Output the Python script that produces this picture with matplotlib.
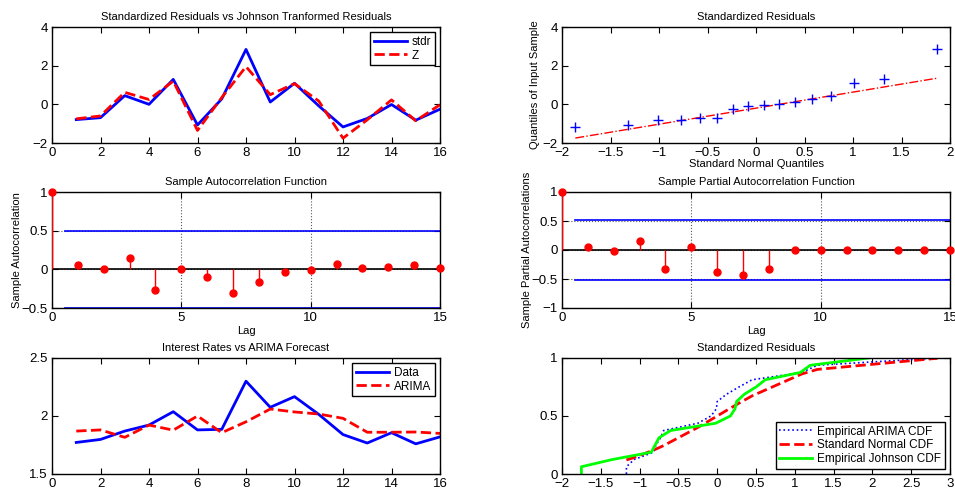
import math
from statistics import NormalDist
import numpy as np
import matplotlib
matplotlib.use("Agg")
import matplotlib.pyplot as plt
from matplotlib.ticker import FuncFormatter

plt.rcParams['font.family'] = ['Liberation Sans', 'DejaVu Sans']
plt.rcParams['axes.unicode_minus'] = True

# ---------------- data ----------------
t = np.arange(1, 17)
stdr = [-0.79, -0.69, 0.45, 0.00, 1.29, -1.07, 0.28, 2.84, 0.12, 1.09, -0.08, -1.17, -0.73, -0.01, -0.82, -0.25]
Z = [-0.75, -0.60, 0.62, 0.25, 1.20, -1.35, 0.35, 1.95, 0.50, 1.07, 0.17, -1.75, -0.80, 0.23, -0.85, -0.02]

lags = np.arange(0, 16)
acf_vals = [1.0, 0.05, 0.0, 0.15, -0.27, 0.0, -0.10, -0.31, -0.17, -0.03, -0.01, 0.07, 0.02, 0.03, 0.06, 0.02]
acf_bound = 0.5
pacf_vals = [1.0, 0.053, -0.01, 0.16, -0.33, 0.05, -0.38, -0.43, -0.32, 0.0, 0.0, 0.0, 0.0, 0.0, 0.0, 0.0]
pacf_bound = 0.52

rates = [1.772, 1.798, 1.87, 1.922, 2.037, 1.88, 1.885, 2.30, 2.075, 2.167, 2.014, 1.84, 1.767, 1.856, 1.76, 1.82]
arima = [1.87, 1.88, 1.816, 1.922, 1.878, 2.0, 1.856, 1.95, 2.06, 2.035, 2.017, 1.98, 1.86, 1.86, 1.862, 1.85]

# ---------------- figure ----------------
W, H = 955, 494
fig = plt.figure(figsize=(W / 100, H / 100), dpi=100)

def rect(x0, y0, x1, y1):
    return [x0 / W, 1 - y1 / H, (x1 - x0) / W, (y1 - y0) / H]

TICK = 9.5
TITLE = 8
LAB = 8

fmt = FuncFormatter(lambda v, p: ('%g' % round(v, 6)).replace('-', '\u2212'))

def style(ax):
    ax.tick_params(direction='in', top=True, right=True, labelsize=TICK, length=4, width=0.8, pad=3)
    ax.xaxis.set_major_formatter(fmt)
    ax.yaxis.set_major_formatter(fmt)
    for s in ax.spines.values():
        s.set_linewidth(1.0)

def legend(ax, loc, **kw):
    lg = ax.legend(loc=loc, fontsize=8.5, fancybox=False, framealpha=1, edgecolor='black',
                   borderaxespad=0.45, handlelength=2.8, handletextpad=0.4, labelspacing=0.15,
                   borderpad=0.3, **kw)
    lg.get_frame().set_linewidth(1.0)
    return lg

# top-left
ax1 = fig.add_axes(rect(52, 27, 440, 143))
ax1.plot(t, stdr, color='blue', lw=2, label='stdr')
ax1.plot(t, Z, color='red', lw=2, ls='--', label='Z')
ax1.set_xlim(0, 16); ax1.set_ylim(-2, 4)
ax1.set_xticks(range(0, 17, 2)); ax1.set_yticks([-2, 0, 2, 4])
ax1.set_title('Standardized Residuals vs Johnson Tranformed Residuals', fontsize=TITLE, pad=5)
legend(ax1, 'upper right')
style(ax1)

# top-right QQ
ax2 = fig.add_axes(rect(562, 27, 950, 143))
n = len(stdr)
ys = np.sort(stdr)
nd = NormalDist()
xq = np.array([nd.inv_cdf((i - 0.5) / n) for i in range(1, n + 1)])
q1y = (ys[3] + ys[4]) / 2; q3y = (ys[11] + ys[12]) / 2
q1x = (xq[3] + xq[4]) / 2; q3x = (xq[11] + xq[12]) / 2
slope = (q3y - q1y) / (q3x - q1x)
xl = np.array([xq[0], xq[-1]])
ax2.plot(xl, q1y + slope * (xl - q1x), color='red', ls='-.', lw=1)
ax2.plot(xq, ys, '+', color='blue', ms=7, mew=1)
ax2.set_xlim(-2, 2); ax2.set_ylim(-2, 4)
ax2.set_xticks(np.arange(-2, 2.01, 0.5)); ax2.set_yticks([-2, 0, 2, 4])
ax2.set_title('Standardized Residuals', fontsize=TITLE, pad=5)
ax2.set_xlabel('Standard Normal Quantiles', fontsize=LAB, labelpad=0)
ax2.set_ylabel('Quantiles of Input Sample', fontsize=LAB, labelpad=2)
style(ax2)

def corr_plot(ax, vals, bound, ylim, yticks, title, ylabel):
    ax.grid(True, ls=':', color='0.35', lw=0.8)
    ax.set_axisbelow(True)
    ax.plot([0, 15], [0, 0], color='black', lw=1.2, zorder=2)
    ax.plot([0.5, 15], [bound, bound], color='blue', lw=1.2, zorder=2)
    ax.plot([0.5, 15], [-bound, -bound], color='blue', lw=1.2, zorder=2)
    ax.vlines(lags, 0, vals, color='red', lw=1, zorder=3)
    ax.plot(lags, vals, 'o', color='red', ms=5, zorder=4, clip_on=False)
    ax.set_xlim(0, 15); ax.set_ylim(*ylim)
    ax.set_xticks([0, 5, 10, 15]); ax.set_yticks(yticks)
    ax.set_title(title, fontsize=TITLE, pad=5)
    ax.set_xlabel('Lag', fontsize=LAB, labelpad=1)
    ax.set_ylabel(ylabel, fontsize=LAB, labelpad=0)
    style(ax)

ax3 = fig.add_axes(rect(52, 192, 440, 308))
corr_plot(ax3, acf_vals, acf_bound, (-0.5, 1), [-0.5, 0, 0.5, 1],
          'Sample Autocorrelation Function', 'Sample Autocorrelation')
ax4 = fig.add_axes(rect(562, 192, 950, 308))
corr_plot(ax4, pacf_vals, pacf_bound, (-1, 1), [-1, -0.5, 0, 0.5, 1],
          'Sample Partial Autocorrelation Function', 'Sample Partial Autocorrelations')

# bottom-left
ax5 = fig.add_axes(rect(52, 358, 440, 474))
ax5.plot(t, rates, color='blue', lw=2, label='Data')
ax5.plot(t, arima, color='red', lw=2, ls='--', label='ARIMA')
ax5.set_xlim(0, 16); ax5.set_ylim(1.5, 2.5)
ax5.set_xticks(range(0, 17, 2)); ax5.set_yticks([1.5, 2, 2.5])
ax5.set_title('Interest Rates vs ARIMA Forecast', fontsize=TITLE, pad=5)
legend(ax5, 'upper right')
style(ax5)

# bottom-right CDFs
ax6 = fig.add_axes(rect(562, 358, 950, 474))
zs = np.sort(Z)
f = np.arange(0, n + 1) / n
xe = np.concatenate([[ys[0]], ys])
ze = np.concatenate([[zs[0]], zs])
ncdf = np.array([0.5 * (1 + math.erf(v / math.sqrt(2))) for v in ys])
ax6.plot(xe, f, color='blue', ls=':', lw=1.2, label='Empirical ARIMA CDF')
ax6.plot(ys, ncdf, color='red', ls='--', lw=2, label='Standard Normal CDF')
ax6.plot(ze, f, color='#00ff00', lw=2, label='Empirical Johnson CDF')
ax6.set_xlim(-2, 3); ax6.set_ylim(0, 1)
ax6.set_xticks(np.arange(-2, 3.01, 0.5)); ax6.set_yticks([0, 0.5, 1])
ax6.set_title('Standardized Residuals', fontsize=TITLE, pad=5)
legend(ax6, 'lower right')
style(ax6)

fig.savefig('out.png', dpi=100)
